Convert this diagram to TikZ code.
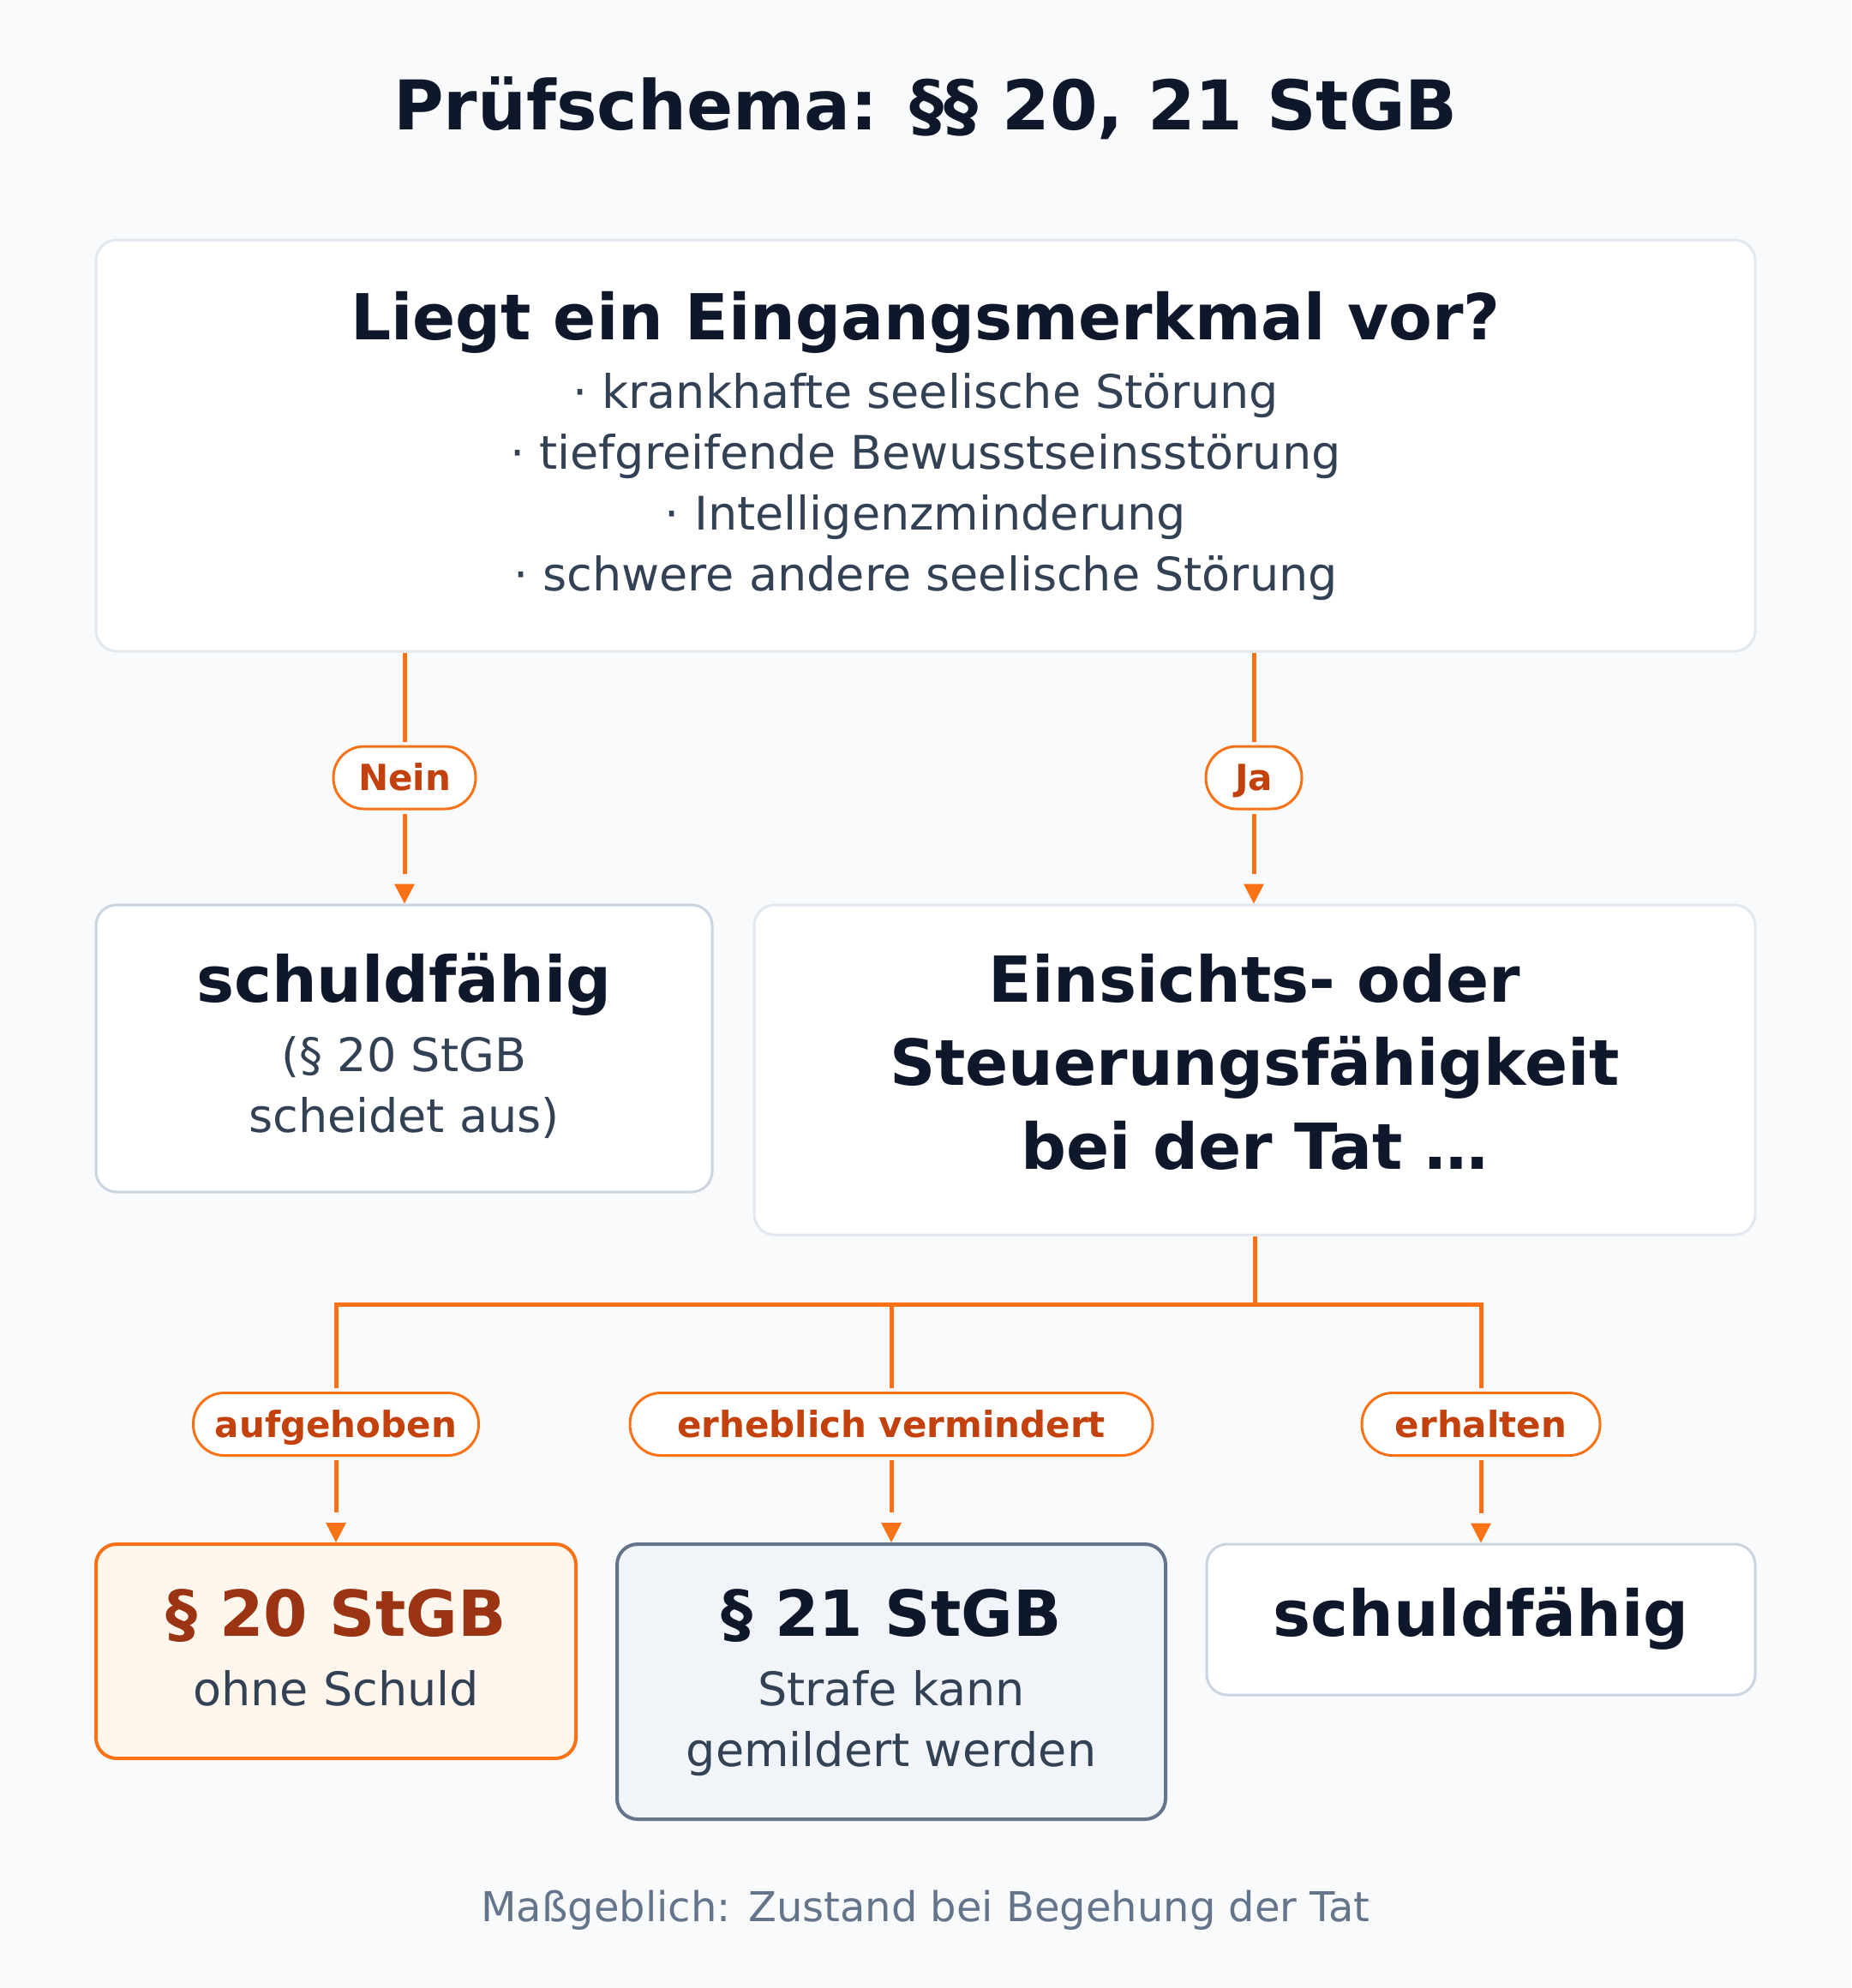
\documentclass[tikz,border=0pt]{standalone}
\usepackage{fontspec}
\setmainfont{DejaVu Sans}
\usetikzlibrary{calc}
\definecolor{bg}{HTML}{F8FAFC}
\definecolor{ink}{HTML}{0F172A}
\definecolor{body}{HTML}{334155}
\definecolor{muted}{HTML}{64748B}
\definecolor{lineA}{HTML}{E2E8F0}
\definecolor{lineB}{HTML}{CBD5E1}
\definecolor{orng}{HTML}{F97316}
\definecolor{pilltxt}{HTML}{C2410C}
\definecolor{redtxt}{HTML}{9A3412}
\definecolor{peach}{HTML}{FFF7ED}
\definecolor{slatebg}{HTML}{F1F5F9}
\definecolor{slateln}{HTML}{64748B}
\tikzset{
  box/.style={draw=lineA, line width=1.5pt, fill=white, rounded corners=12pt, inner sep=0pt},
  pill/.style={draw=orng, line width=1.5pt, fill=white, rounded corners=18pt, inner sep=0pt,
    minimum height=36.5pt, text=pilltxt, font=\fontsize{21}{21}\selectfont\bfseries,
    text height=15.3pt, text depth=0pt},
  conn/.style={draw=orng, line width=2.5pt},
  tip/.style={fill=orng},
  ttl/.style={anchor=base, text=ink, font=\fontsize{40}{40}\selectfont\bfseries, inner sep=0pt},
  hd/.style={anchor=base, text=ink, font=\fontsize{37}{37}\selectfont\bfseries, inner sep=0pt},
  big/.style={anchor=base, text=ink, font=\fontsize{37}{37}\selectfont\bfseries, inner sep=0pt},
  txt/.style={anchor=base, text=body, font=\fontsize{27}{27}\selectfont, inner sep=0pt},
  foot/.style={anchor=base, text=muted, font=\fontsize{24}{24}\selectfont, inner sep=0pt},
}
\begin{document}
\begin{tikzpicture}[x=1pt,y=-1pt]
\fill[bg] (0,0) rectangle (1080,1160);
\useasboundingbox (0,0) rectangle (1080,1160);

\node[ttl] (title) at (540,75.5) {Prüfschema: §§ 20, 21 StGB};

% top box
\node[box, minimum width=968pt, minimum height=240pt] (top) at (540,260) {};
\node[hd] (q) at (540,198) {Liegt ein Eingangsmerkmal vor?};
\node[txt] (l1) at (540,238) {· krankhafte seelische Störung};
\node[txt] (l2) at (540,273.5) {· tiefgreifende Bewusstseinsstörung};
\node[txt] (l3) at (540,309) {· Intelligenzminderung};
\node[txt] (l4) at (540,344.5) {· schwere andere seelische Störung};

% second row
\node[box, draw=lineB, minimum width=359.5pt, minimum height=167.5pt] (left) at (235.75,611.75) {};
\node[big] (s1) at (235.75,584.5) {schuldfähig};
\node[txt] (s1a) at (235.75,625) {(§ 20 StGB};
\node[txt] (s1b) at (235.75,660.5) {scheidet aus)};

\node[box, minimum width=584pt, minimum height=192.5pt] (right) at (732,624.25) {};
\node[big] (e1) at (732,584.5) {Einsichts- oder};
\node[big] (e2) at (732,633) {Steuerungsfähigkeit};
\node[big] (e3) at (732,682) {bei der Tat …};

% pills row 1
\node[pill, minimum width=83pt] (nein) at (236,453.75) {Nein};
\node[pill, minimum width=56pt] (ja) at (731.5,453.75) {Ja};

\draw[conn, shorten >=2pt] (top.south -| nein) -- (nein.north);
\draw[conn, shorten <=2pt] (nein.south) -- ([yshift=17.5pt]left.north -| nein);
\fill[tip] (left.north -| nein) -- ++(-6,-11.5) -- ++(12,0) -- cycle;

\draw[conn, shorten >=2pt] (top.south -| ja) -- (ja.north);
\draw[conn, shorten <=2pt] (ja.south) -- ([yshift=17.5pt]right.north -| ja);
\fill[tip] (right.north -| ja) -- ++(-6,-11.5) -- ++(12,0) -- cycle;

% bottom row
\node[box, draw=orng, fill=peach, line width=2pt, minimum width=280pt, minimum height=125pt] (b20) at (196,963.5) {};
\node[big, text=redtxt] (b20t) at (196,954.5) {§ 20 StGB};
\node[txt] (b20s) at (196,995) {ohne Schuld};

\node[box, draw=slateln, fill=slatebg, line width=2pt, minimum width=320pt, minimum height=160.5pt] (b21) at (520,981.25) {};
\node[big] (b21t) at (520,954.5) {§ 21 StGB};
\node[txt] (b21s) at (520,995) {Strafe kann};
\node[txt] (b21u) at (520,1030.5) {gemildert werden};

\node[box, draw=lineB, minimum width=320pt, minimum height=88pt] (bok) at (864,945) {};
\node[big] (bokt) at (864,954.5) {schuldfähig};

% pills row 2
\node[pill, minimum width=166.5pt] (p20) at (196,831) {aufgehoben};
\node[pill, minimum width=305pt] (p21) at (520,831) {erheblich vermindert};
\node[pill, minimum width=139pt] (pok) at (864,831) {erhalten};

\path (right.south) ++(0,40) coordinate (hub);
\draw[conn] (right.south) -- (hub);
\draw[conn, shorten >=2pt] (hub) -| (p20.north);
\draw[conn, shorten >=2pt] (hub) -| (p21.north);
\draw[conn, shorten >=2pt] (hub) -| (pok.north);

\draw[conn, shorten <=2pt] (p20.south) -- ([yshift=17.5pt]b20.north -| p20);
\fill[tip] (b20.north -| p20) -- ++(-6,-11.5) -- ++(12,0) -- cycle;
\draw[conn, shorten <=2pt] (p21.south) -- ([yshift=17.5pt]b21.north -| p21);
\fill[tip] (b21.north -| p21) -- ++(-6,-11.5) -- ++(12,0) -- cycle;
\draw[conn, shorten <=2pt] (pok.south) -- ([yshift=17.5pt]bok.north -| pok);
\fill[tip] (bok.north -| pok) -- ++(-6,-11.5) -- ++(12,0) -- cycle;

\node[foot] (ft) at (540,1121) {Maßgeblich: Zustand bei Begehung der Tat};
\end{tikzpicture}
\end{document}
